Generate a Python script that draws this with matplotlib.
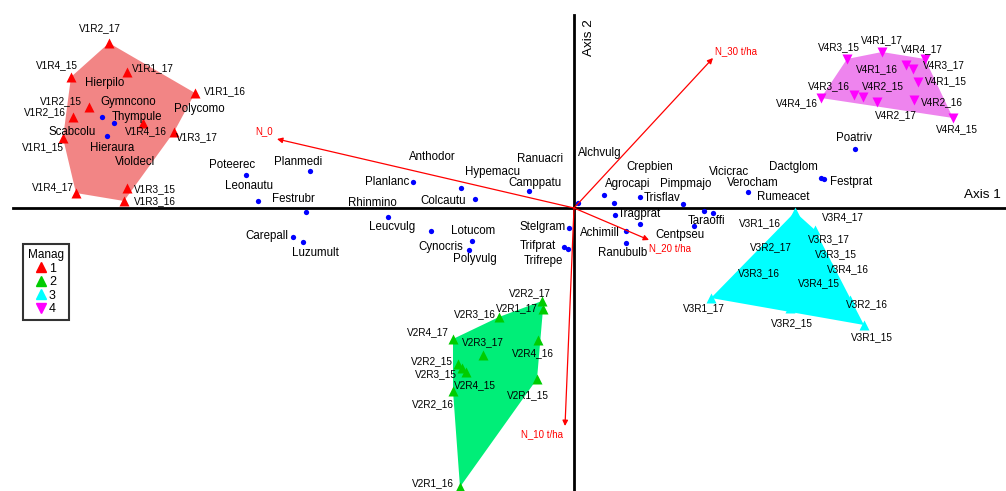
import numpy as np
import matplotlib.pyplot as plt
from matplotlib.lines import Line2D

plt.rcParams['font.family'] = ['Liberation Sans', 'DejaVu Sans']

# ---- sample scores (Axis 1, Axis 2) by management group ----
g1_names = ['V1R2_17', 'V1R4_15', 'V1R1_17', 'V1R1_16', 'V1R2_15', 'V1R2_16',
            'V1R4_16', 'V1R3_17', 'V1R1_15', 'V1R4_17', 'V1R3_15', 'V1R3_16']
g1_x = [-4.65, -5.03, -4.47, -3.79, -4.85, -5.01, -4.31, -4.00, -5.11, -4.98, -4.47, -4.50]
g1_y = [1.65, 1.31, 1.36, 1.15, 1.01, 0.91, 0.85, 0.76, 0.70, 0.15, 0.20, 0.07]

g2_names = ['V2R2_17', 'V2R1_17', 'V2R3_16', 'V2R4_17', 'V2R3_17', 'V2R4_16',
            'V2R2_15', 'V2R3_15', 'V2R4_15', 'V2R2_16', 'V2R1_15', 'V2R1_16']
g2_x = [-0.32, -0.31, -0.75, -1.21, -0.91, -0.36, -1.16, -1.12, -1.08, -1.21, -0.37, -1.14]
g2_y = [-0.93, -1.01, -1.09, -1.31, -1.47, -1.32, -1.56, -1.60, -1.64, -1.83, -1.71, -2.79]

g3_names = ['V3R1_16', 'V3R4_17', 'V3R3_17', 'V3R2_17', 'V3R3_15', 'V3R4_16',
            'V3R3_16', 'V3R4_15', 'V3R1_17', 'V3R2_16', 'V3R2_15', 'V3R1_15']
g3_x = [2.21, 2.41, 2.38, 2.16, 2.48, 2.58, 2.01, 2.38, 1.37, 2.76, 2.16, 2.90]
g3_y = [-0.04, -0.22, -0.30, -0.32, -0.44, -0.60, -0.62, -0.72, -0.90, -0.92, -1.00, -1.17]

g4_names = ['V4R1_17', 'V4R3_15', 'V4R4_17', 'V4R1_16', 'V4R3_17', 'V4R1_15',
            'V4R3_16', 'V4R2_15', 'V4R4_16', 'V4R2_17', 'V4R2_16', 'V4R4_15']
g4_x = [3.08, 2.73, 3.51, 3.32, 3.39, 3.44, 2.80, 2.89, 2.47, 3.03, 3.40, 3.79]
g4_y = [1.56, 1.49, 1.49, 1.43, 1.39, 1.26, 1.13, 1.11, 1.10, 1.06, 1.08, 0.90]

# ---- species scores (nan = point not shown) ----
sp_names = ['Hierpilo', 'Gymncono', 'Thympule', 'Scabcolu', 'Hieraura', 'Violdecl',
            'Polycomo', 'Poteerec', 'Planmedi', 'Leonautu', 'Festrubr', 'Anthodor',
            'Hypemacu', 'Planlanc', 'Colcautu', 'Rhinmino', 'Ranuacri', 'Camppatu',
            'Leucvulg', 'Carepall', 'Luzumult', 'Lotucom', 'Cynocris', 'Polyvulg',
            'Stelgram', 'Trifprat', 'Trifrepe', 'Alchvulg', 'Crepbien', 'Agrocapi',
            'Pimpmajo', 'Trisflav', 'Vicicrac', 'Verocham', 'Rumeacet', 'Dactglom',
            'Festprat', 'Poatriv', 'Tragprat', 'Taraoffi', 'Centpseu', 'Achimill',
            'Ranubulb']
sp_x = [np.nan, -4.72, -4.60, np.nan, -4.67, np.nan,
        np.nan, -3.28, -2.64, -3.16, -2.68, np.nan,
        -1.13, -1.61, -0.99, np.nan, np.nan, -0.45,
        -1.86, -2.81, -2.71, -1.02, -1.43, -1.05,
        -0.05, -0.10, -0.06, 0.04, 0.40, 0.30,
        1.09, 0.66, 1.30, 1.74, 1.39, 2.47,
        2.50, 2.81, 0.41, 1.20, 0.66, 0.52,
        0.52]
sp_y = [np.nan, 0.91, 0.85, np.nan, 0.72, np.nan,
        np.nan, 0.33, 0.37, 0.07, -0.04, np.nan,
        0.20, 0.26, 0.09, np.nan, np.nan, 0.17,
        -0.09, -0.29, -0.34, -0.33, -0.23, -0.42,
        -0.20, -0.39, -0.41, 0.05, 0.05, 0.13,
        0.04, 0.11, -0.03, 0.16, -0.05, 0.30,
        0.29, 0.59, -0.07, -0.18, -0.16, -0.23,
        -0.35]

# ---- environmental arrows (N dose) ----
env_names = ['N_0', 'N_30 t/ha', 'N_20 t/ha', 'N_10 t/ha']
env_x = [-2.97, 1.39, 0.75, -0.09]
env_y = [0.69, 1.50, -0.32, -2.18]

# ---- label placement (layout only) ----
sp_lab_x = [-4.69, -4.46, -4.37, -5.02, -4.62, -4.39, -3.75, -3.42, -2.76, -3.25, -2.81,
            -1.42, -0.82, -1.87, -1.31, -2.02, -0.34, -0.39, -1.82, -3.07, -2.59, -1.01,
            -1.33, -0.99, -0.31, -0.36, -0.31, 0.26, 0.76, 0.54, 1.12, 0.88, 1.55, 1.79,
            2.09, 2.19, 2.77, 2.80, 0.65, 1.33, 1.06, 0.26, 0.49]
sp_lab_y = [1.25, 1.06, 0.91, 0.76, 0.60, 0.46, 0.99, 0.43, 0.46, 0.22, 0.09,
            0.51, 0.36, 0.26, 0.07, 0.05, 0.49, 0.25, -0.19, -0.28, -0.45, -0.23,
            -0.39, -0.51, -0.19, -0.38, -0.53, 0.55, 0.41, 0.24, 0.24, 0.10, 0.36, 0.25,
            0.11, 0.41, 0.26, 0.70, -0.06, -0.13, -0.27, -0.25, -0.45]
env_lab_x = [-3.10, 1.62, 0.96, -0.32]
env_lab_y = [0.77, 1.57, -0.40, -2.26]

# pixel offsets of sample labels from their points
off = {
    'V1R2_17': (-9, 15), 'V1R4_15': (-14, 12), 'V1R1_17': (26, 4), 'V1R1_16': (30, 2),
    'V1R2_15': (-28, 6), 'V1R2_16': (-28, 5), 'V1R4_16': (3, -8), 'V1R3_17': (23, -5),
    'V1R1_15': (-20, -9), 'V1R4_17': (-23, 6), 'V1R3_15': (28, -1), 'V1R3_16': (31, 0),
    'V2R2_17': (-12, 8), 'V2R1_17': (-26, 1), 'V2R3_16': (-24, 3), 'V2R4_17': (-25, 7),
    'V2R3_17': (0, 13), 'V2R4_16': (-5, -13), 'V2R2_15': (-26, 3), 'V2R3_15': (-26, -6),
    'V2R4_15': (9, -13), 'V2R2_16': (-20, -13), 'V2R1_15': (-9, -16), 'V2R1_16': (-27, 4),
    'V3R1_16': (-35, -11), 'V3R4_17': (28, 13), 'V3R3_17': (17, -1), 'V3R2_17': (-19, -7),
    'V3R3_15': (14, -2), 'V3R4_16': (16, -1), 'V3R3_16': (-16, -3), 'V3R4_15': (7, -3),
    'V3R1_17': (-7, -10), 'V3R2_16': (17, -4), 'V3R2_15': (2, -15), 'V3R1_15': (8, -12),
    'V4R1_17': (0, 12), 'V4R3_15': (-8, 12), 'V4R4_17': (-3, 10), 'V4R1_16': (-29, -4),
    'V4R3_17': (31, 4), 'V4R1_15': (28, 1), 'V4R3_16': (-25, 9), 'V4R2_15': (20, 11),
    'V4R4_16': (-24, -5), 'V4R2_17': (19, -13), 'V4R2_16': (28, -2), 'V4R4_15': (4, -11),
}


def hull(xs, ys):
    pts = sorted(set(zip(xs, ys)))

    def cross(o, a, b):
        return (a[0] - o[0]) * (b[1] - o[1]) - (a[1] - o[1]) * (b[0] - o[0])
    lower, upper = [], []
    for p in pts:
        while len(lower) >= 2 and cross(lower[-2], lower[-1], p) <= 0:
            lower.pop()
        lower.append(p)
    for p in reversed(pts):
        while len(upper) >= 2 and cross(upper[-2], upper[-1], p) <= 0:
            upper.pop()
        upper.append(p)
    h = lower[:-1] + upper[:-1]
    return [p[0] for p in h], [p[1] for p in h]


fig = plt.figure(figsize=(10.06, 4.91), dpi=100)
ax = fig.add_axes([0, 0, 1, 1])
ax.set_xlim(-5.74, 4.32)
ax.set_ylim(-2.83, 2.08)
ax.axis('off')

groups = [
    (g1_names, g1_x, g1_y, '#ff0000', '#f28585', '^'),
    (g2_names, g2_x, g2_y, '#00cc00', '#00ee78', '^'),
    (g3_names, g3_x, g3_y, '#00ffff', '#00ffff', '^'),
    (g4_names, g4_x, g4_y, '#ff00ff', '#ee84ee', 'v'),
]
for names, xs, ys, mcol, fcol, mk in groups:
    hx, hy = hull(xs, ys)
    ax.fill(hx, hy, color=fcol, lw=0, zorder=1)
    ax.plot(xs, ys, mk, color=mcol, ms=7, mec='none', zorder=3)
    for n, x, y in zip(names, xs, ys):
        ax.annotate(n, (x, y), xytext=off[n], textcoords='offset pixels',
                    ha='center', va='center', fontsize=7.2, zorder=5)

# axes through origin
ax.axhline(0, xmin=13 / 1006, color='black', lw=2, zorder=2)
ax.axvline(0, ymax=(491 - 15) / 491, color='black', lw=2, zorder=2)
ax.text(4.08, 0.13, 'Axis 1', fontsize=9.7, ha='center', va='center')
ax.text(0.15, 1.70, 'Axis 2', fontsize=9.7, ha='center', va='center', rotation=90)

# species
ax.plot(sp_x, sp_y, 'o', color='#0000ff', ms=3.8, mec='none', zorder=4)
for n, lx, ly in zip(sp_names, sp_lab_x, sp_lab_y):
    ax.text(lx, ly, n, fontsize=8.3, ha='center', va='center', zorder=5)

# environmental arrows
for n, x, y, lx, ly in zip(env_names, env_x, env_y, env_lab_x, env_lab_y):
    ax.annotate('', xy=(x, y), xytext=(0, 0),
                arrowprops=dict(arrowstyle='-|>', color='red', lw=0.9,
                                mutation_scale=8, shrinkA=0, shrinkB=0), zorder=4)
    ax.text(lx, ly, n, color='red', fontsize=7, ha='center', va='center', zorder=5)

handles = [Line2D([], [], ls='none', marker=g[5], color=g[3], ms=7) for g in groups]
leg = fig.legend(handles, ['1', '2', '3', '4'], title='Manag', loc='upper left',
                 bbox_to_anchor=(0.023, 0.503), fontsize=9, title_fontsize=8.5,
                 frameon=True, fancybox=False, handlelength=0.8, handletextpad=0.2,
                 labelspacing=0.12, borderpad=0.4, borderaxespad=0)
leg.get_frame().set_edgecolor('black')
leg.get_frame().set_linewidth(1.5)

fig.savefig('out.png', dpi=100)
